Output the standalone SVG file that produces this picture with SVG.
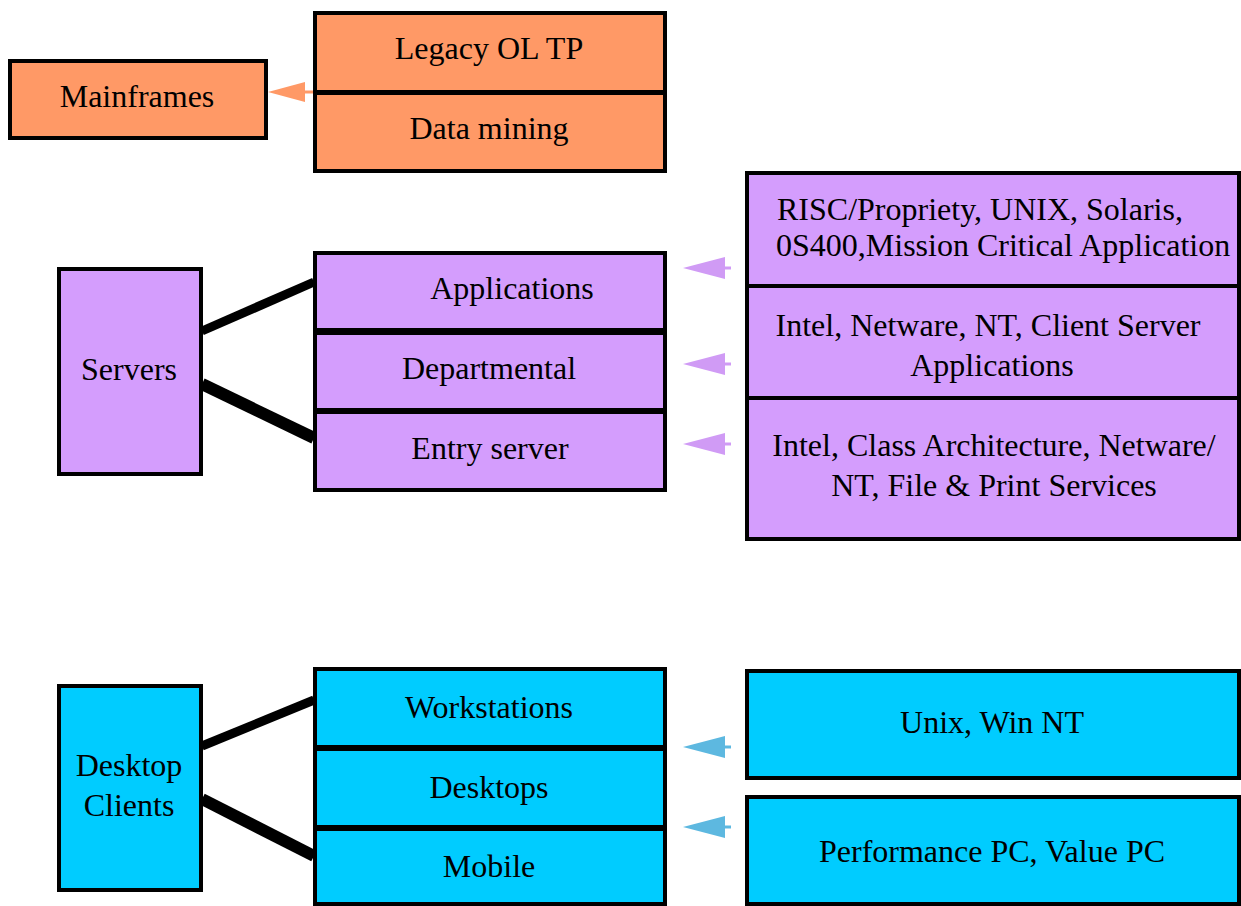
<svg xmlns="http://www.w3.org/2000/svg" width="1241" height="906" viewBox="0 0 1241 906">
<style>
.box{stroke:#000;stroke-width:4}
.or{fill:#FF9966}
.pu{fill:#D49DFD}
.cy{fill:#00CCFF}
.c{text-anchor:middle}
.link{stroke:#000;fill:none}
</style>
<defs>
<marker id="ah-or" markerUnits="userSpaceOnUse" markerWidth="38" markerHeight="22" refX="0" refY="10" orient="auto" overflow="visible"><path d="M0,0 L37,10 L0,20 z" fill="#FF9966"/></marker>
<marker id="ah-pu" markerUnits="userSpaceOnUse" markerWidth="43" markerHeight="24" refX="0" refY="11" orient="auto" overflow="visible"><path d="M0,0 L42,11 L0,22 z" fill="#D09BF5"/></marker>
<marker id="ah-bl" markerUnits="userSpaceOnUse" markerWidth="43" markerHeight="24" refX="0" refY="11" orient="auto" overflow="visible"><path d="M0,0 L42,11 L0,22 z" fill="#5DB8E0"/></marker>
</defs>
<g id="connectors">
<line x1="316" y1="92" x2="305" y2="92" stroke="#FF9966" stroke-width="3" marker-end="url(#ah-or)"/>
<line x1="731" y1="268" x2="725" y2="268" stroke="#D09BF5" stroke-width="3" marker-end="url(#ah-pu)"/>
<line x1="731" y1="364" x2="725" y2="364" stroke="#D09BF5" stroke-width="3" marker-end="url(#ah-pu)"/>
<line x1="731" y1="444" x2="725" y2="444" stroke="#D09BF5" stroke-width="3" marker-end="url(#ah-pu)"/>
<line x1="731" y1="747" x2="725" y2="747" stroke="#5DB8E0" stroke-width="3" marker-end="url(#ah-bl)"/>
<line x1="731" y1="827" x2="725" y2="827" stroke="#5DB8E0" stroke-width="3" marker-end="url(#ah-bl)"/>
<line class="link" x1="202" y1="331" x2="314" y2="282" stroke-width="9"/>
<line class="link" x1="202" y1="384" x2="314" y2="438" stroke-width="12"/>
<line class="link" x1="202" y1="746" x2="314" y2="700" stroke-width="9"/>
<line class="link" x1="202" y1="799" x2="314" y2="856" stroke-width="12"/>
</g>
<g font-family="Times New Roman, Liberation Serif, DejaVu Serif, serif" font-size="32" fill="#000">
<g id="mainframes"><rect class="box or" x="10" y="61" width="256" height="77"/><text class="c" x="137" y="107">Mainframes</text></g>
<g id="legacy"><rect class="box or" x="315" y="13" width="350" height="79"/><text class="c" x="489" y="59">Legacy OL TP</text></g>
<g id="datamining"><rect class="box or" x="315" y="93" width="350" height="78"/><text class="c" x="489" y="139">Data mining</text></g>
<g id="servers"><rect class="box pu" x="59" y="269" width="142" height="205"/><text class="c" x="129" y="380">Servers</text></g>
<g id="applications"><rect class="box pu" x="315" y="253" width="350" height="77"/><text class="c" x="512" y="299">Applications</text></g>
<g id="departmental"><rect class="box pu" x="315" y="333" width="350" height="77"/><text class="c" x="489" y="379">Departmental</text></g>
<g id="entryserver"><rect class="box pu" x="315" y="412" width="350" height="78"/><text class="c" x="490" y="459">Entry server</text></g>
<g id="risc"><rect class="box pu" x="747" y="173" width="492" height="113"/><text x="777" y="220">RISC/Propriety, UNIX, Solaris,</text><text x="776" y="256">0S400,Mission Critical Application</text></g>
<g id="intel1"><rect class="box pu" x="747" y="286" width="492" height="112"/><text class="c" x="988" y="336">Intel, Netware, NT, Client Server</text><text class="c" x="992" y="376">Applications</text></g>
<g id="intel2"><rect class="box pu" x="747" y="398" width="492" height="141"/><text class="c" x="994" y="456">Intel, Class Architecture, Netware/</text><text class="c" x="994" y="496">NT, File &amp; Print Services</text></g>
<g id="desktopclients"><rect class="box cy" x="59" y="686" width="142" height="204"/><text class="c" x="129" y="776">Desktop</text><text class="c" x="129" y="816">Clients</text></g>
<g id="workstations"><rect class="box cy" x="315" y="669" width="350" height="78"/><text class="c" x="489" y="718">Workstations</text></g>
<g id="desktops"><rect class="box cy" x="315" y="749" width="350" height="78"/><text class="c" x="489" y="798">Desktops</text></g>
<g id="mobile"><rect class="box cy" x="315" y="829" width="350" height="75"/><text class="c" x="489" y="877">Mobile</text></g>
<g id="unixwin"><rect class="box cy" x="747" y="671" width="492" height="107"/><text class="c" x="992" y="733">Unix, Win NT</text></g>
<g id="perfpc"><rect class="box cy" x="747" y="797" width="492" height="107"/><text class="c" x="992" y="862">Performance PC, Value PC</text></g>
</g>
</svg>
